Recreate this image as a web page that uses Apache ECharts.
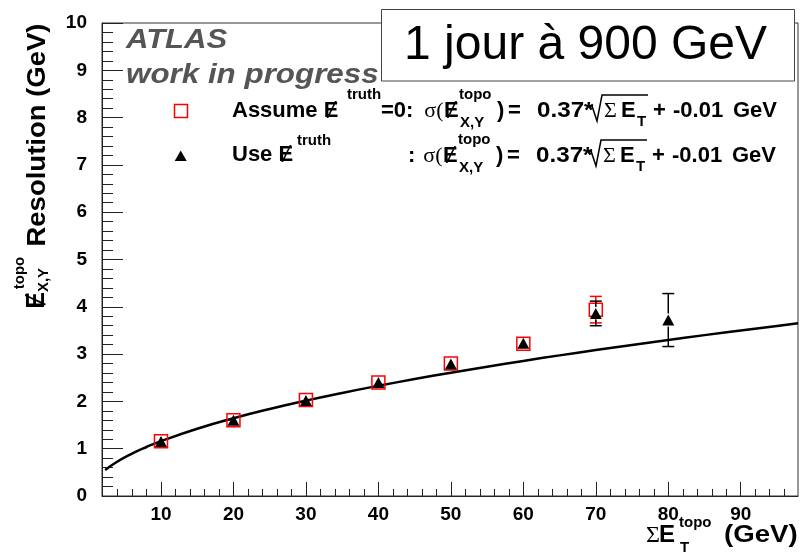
<!DOCTYPE html>
<html>
<head>
<meta charset="utf-8">
<script src="https://cdn.jsdelivr.net/npm/echarts@6/dist/echarts.min.js"></script>
<style>
html, body { margin: 0; padding: 0; background: #fff; }
#chart { width: 802px; height: 556px; }
</style>
</head>
<body>
<div id="chart"></div>
<script>
// ΣE_T^topo bin centres (GeV)
const sumEt = [10, 20, 30, 40, 50, 60, 70, 80];
// MET_xy resolution assuming MET_truth = 0 (open red squares)
const resAssume = [1.16, 1.60, 2.03, 2.40, 2.80, 3.22, 3.94];
const errAssume = [0.03, 0.04, 0.05, 0.06, 0.08, 0.10, 0.28];
// MET_xy resolution using MET_truth (black triangles)
const resUse = [1.15, 1.60, 2.02, 2.40, 2.79, 3.23, 3.86, 3.72];
const errUse = [0.03, 0.04, 0.05, 0.06, 0.08, 0.10, 0.26, 0.56];
// Fitted resolution curve samples (0.37*sqrt(ΣE_T) - 0.01 GeV)
const fitX = [2.3, 4, 6, 8, 10, 15, 20, 25, 30, 35, 40, 45, 50, 55, 60, 65, 70, 75, 80, 85, 90, 95, 97.9];
const fitY = [0.551, 0.730, 0.896, 1.036, 1.160, 1.423, 1.645, 1.840, 2.017, 2.179, 2.330, 2.472, 2.606, 2.734, 2.856, 2.973, 3.086, 3.194, 3.299, 3.401, 3.500, 3.596, 3.651];
// Axis ticks
const xMajorTicks = [10, 20, 30, 40, 50, 60, 70, 80, 90];
const xMinorTicks = [4, 6, 8, 12, 14, 16, 18, 22, 24, 26, 28, 32, 34, 36, 38, 42, 44, 46, 48,
  52, 54, 56, 58, 62, 64, 66, 68, 72, 74, 76, 78, 82, 84, 86, 88, 92, 94, 96];

const SANS = '"Liberation Sans", Arial, "DejaVu Sans", sans-serif';
const SERIF = '"Liberation Serif", "DejaVu Serif", serif';
const X_MIN = 1.86, X_MAX = 97.9;
const MARKER_HALF = 6.5;

const chart = echarts.init(document.getElementById('chart'), null, { renderer: 'canvas' });

function txt(str, x, y, size, opt) {
  opt = opt || {};
  return {
    type: 'text', x: x, y: y, z: 100,
    rotation: opt.rotation || 0,
    scaleX: opt.scaleX || 1,
    style: {
      text: str,
      font: (opt.style || 'bold') + ' ' + size + 'px ' + (opt.family || SANS),
      fill: opt.fill || '#000',
      align: opt.align || 'left', textAlign: opt.align || 'left',
      verticalAlign: 'middle', textVerticalAlign: 'middle'
    }
  };
}

function sqrtSign(x, y, endX) {
  return {
    type: 'polyline', z: 100,
    shape: { points: [[x, y + 13], [x + 3, y + 11], [x + 8, y + 26], [x + 13, y], [endX, y]] },
    style: { stroke: '#000', lineWidth: 1.5, fill: null }
  };
}

// One legend formula: "σ(MET_XY^topo) = 0.37*√ΣE_T + -0.01 GeV"
function formula(dx, yc) {
  return [
    txt('σ(', 443.5 + dx, yc, 22, { style: 'normal', family: SERIF, align: 'right' }),
    txt('Ɇ', 444 + dx, yc, 22),
    txt('topo', 459 + dx, yc - 16, 15),
    txt('X,Y', 460 + dx, yc + 12, 15),
    txt(')', 497 + dx, yc, 22),
    txt('=', 508 + dx, yc, 22),
    txt('0.37*', 537 + dx, yc, 22, { scaleX: 1.1 }),
    sqrtSign(589 + dx, yc - 16, 648 + dx),
    txt('Σ', 604 + dx, yc, 22, { style: 'normal', family: SERIF }),
    txt('E', 621 + dx, yc, 22),
    txt('T', 637 + dx, yc + 11, 15),
    txt('+', 653 + dx, yc, 22),
    txt('-0.01', 673 + dx, yc, 22),
    txt('GeV', 733 + dx, yc, 22)
  ];
}

const graphics = [
  // title box
  { type: 'rect', z: 90, shape: { x: 381.5, y: 9.5, width: 413, height: 71.5 },
    style: { fill: '#fff', stroke: '#444', lineWidth: 1 } },
  txt('1 jour à 900 GeV', 585.5, 46, 48, { style: 'normal', align: 'center' }),
  // ATLAS label
  txt('ATLAS', 126, 40.5, 28, { style: 'italic bold', fill: '#555', scaleX: 1.11 }),
  txt('work in progress', 126, 75, 28, { style: 'italic bold', fill: '#555', scaleX: 1.12 }),
  // legend markers
  { type: 'rect', z: 100, shape: { x: 174.5, y: 104.5, width: 13, height: 13 },
    style: { fill: null, stroke: '#ff0000', lineWidth: 1.5 } },
  { type: 'polygon', z: 100, shape: { points: [[180.7, 150.5], [186.7, 161], [174.7, 161]] },
    style: { fill: '#000' } },
  // legend texts
  txt('Assume Ɇ', 232, 111, 22),
  txt('truth', 347, 95, 15),
  txt('=0:', 381, 111, 22),
  txt('Use Ɇ', 232, 155, 22),
  txt('truth', 297, 141, 15),
  txt(':', 408, 156, 22),
  ...formula(0, 111),
  ...formula(-1, 156),
  // y axis title
  txt('Resolution (GeV)', 38, 135, 25, { rotation: Math.PI / 2, align: 'center', scaleX: 1.1 }),
  txt('Ɇ', 37.5, 300.5, 25, { rotation: Math.PI / 2, align: 'center' }),
  txt('topo', 20, 273, 15, { rotation: Math.PI / 2, align: 'center' }),
  txt('X,Y', 44, 280, 15, { rotation: Math.PI / 2, align: 'center' }),
  // x axis title
  txt('Σ', 646, 535.5, 24, { style: 'normal', family: SERIF }),
  txt('E', 659, 535.5, 24),
  txt('T', 680, 548, 15),
  txt('topo', 679, 523, 15),
  txt('(GeV)', 724, 535.5, 24, { scaleX: 1.15 })
];

function errorBars(ys, es, color, z) {
  return {
    type: 'custom', z: z, silent: true,
    xAxisIndex: 0, yAxisIndex: 0,
    data: ys.map((y, i) => [sumEt[i], y, y - es[i], y + es[i]]),
    encode: { x: 0, y: [1, 2, 3] },
    renderItem: function (params, api) {
      const x = api.value(0);
      const c = api.coord([x, api.value(1)]);
      const lo = api.coord([x, api.value(2)]);
      const hi = api.coord([x, api.value(3)]);
      const children = [];
      const st = { stroke: color, lineWidth: 1.5 };
      const hw = 6;
      if (lo[1] - c[1] > MARKER_HALF) {
        children.push({ type: 'line', shape: { x1: c[0], y1: c[1] + MARKER_HALF, x2: lo[0], y2: lo[1] }, style: st });
        children.push({ type: 'line', shape: { x1: lo[0] - hw, y1: lo[1], x2: lo[0] + hw, y2: lo[1] }, style: st });
      }
      if (c[1] - hi[1] > MARKER_HALF) {
        children.push({ type: 'line', shape: { x1: c[0], y1: c[1] - MARKER_HALF, x2: hi[0], y2: hi[1] }, style: st });
        children.push({ type: 'line', shape: { x1: hi[0] - hw, y1: hi[1], x2: hi[0] + hw, y2: hi[1] }, style: st });
      }
      return { type: 'group', children: children };
    }
  };
}

const axisFont = { fontFamily: SANS, fontWeight: 'bold', fontSize: 19, color: '#000' };

const option = {
  animation: false,
  backgroundColor: '#fff',
  grid: {
    left: 102, right: 4, top: 23, bottom: 60,
    show: true, borderColor: '#333', borderWidth: 1, backgroundColor: 'transparent'
  },
  xAxis: [
    {
      type: 'value', min: X_MIN, max: X_MAX, position: 'bottom',
      axisLine: { show: true, lineStyle: { color: '#222', width: 1 } },
      axisTick: { show: true, inside: true, length: 14, customValues: xMajorTicks, lineStyle: { color: '#222' } },
      axisLabel: Object.assign({ show: true, margin: 9, customValues: xMajorTicks }, axisFont),
      splitLine: { show: false }
    },
    {
      type: 'value', min: X_MIN, max: X_MAX, position: 'bottom',
      axisLine: { show: false },
      axisTick: { show: true, inside: true, length: 7, customValues: xMinorTicks, lineStyle: { color: '#222' } },
      axisLabel: { show: false, customValues: xMinorTicks },
      splitLine: { show: false }
    }
  ],
  yAxis: {
    type: 'value', min: 0, max: 10, interval: 1,
    axisLine: { show: true, lineStyle: { color: '#222', width: 1 } },
    axisTick: { show: true, inside: true, length: 21, lineStyle: { color: '#222' } },
    minorTick: { show: true, splitNumber: 5, length: 11, lineStyle: { color: '#222' } },
    axisLabel: Object.assign({ margin: 15 }, axisFont),
    splitLine: { show: false }
  },
  series: [
    {
      name: 'fit', type: 'line', z: 2, smooth: true, showSymbol: false, silent: true,
      data: fitX.map((x, i) => [x, fitY[i]]),
      lineStyle: { color: '#000', width: 2.5 }
    },
    {
      name: 'Assume', type: 'scatter', z: 3, symbol: 'rect', symbolSize: 13,
      data: resAssume.map((y, i) => [sumEt[i], y]),
      itemStyle: { color: 'rgba(255,255,255,0)', borderColor: '#ff0000', borderWidth: 1.5, opacity: 1 }
    },
    errorBars(resAssume, errAssume, '#ff0000', 4),
    errorBars(resUse, errUse, '#000', 5),
    {
      name: 'Use', type: 'scatter', z: 6, symbol: 'triangle', symbolSize: [12, 11],
      data: resUse.map((y, i) => [sumEt[i], y]),
      itemStyle: { color: '#000', opacity: 1 }
    }
  ],
  graphic: { elements: graphics }
};

chart.setOption(option);
</script>
</body>
</html>
